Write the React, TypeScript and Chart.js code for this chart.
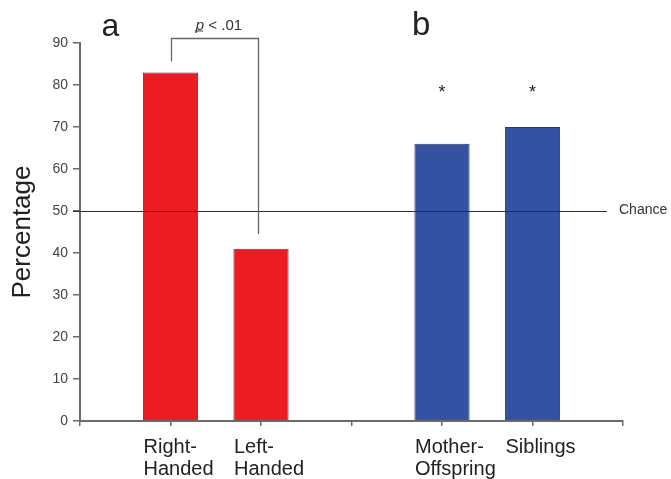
import React, { useEffect, useRef } from 'react';
import { Chart, registerables } from 'chart.js';

Chart.register(...registerables);

// ---- data ----
const handLabels: string[][] = [['Right-', 'Handed'], ['Left-', 'Handed']];
const handValues: number[] = [83, 41];
const kinLabels: string[][] = [['Mother-', 'Offspring'], ['Siblings']];
const kinValues: number[] = [66, 70];
const yMin = 0;
const yMax = 90;
const yStep = 10;
const yTitle = 'Percentage';
const chanceValue = 50;
const chanceLabel = 'Chance';
const sigLabelItalic = 'p';
const sigLabelRest = ' < .01';
const bracketTopValue = 91.2;
const bracketLeftEndValue = 85.6;
const bracketRightEndValue = 44.5;
const starLabel = '*';
const starValue = 79.3;
const panelLabels: string[] = ['a', 'b'];

// ---- derived ----
const categories: (string | string[])[] = ['', ...handLabels, '', ...kinLabels, ''];
const values: (number | null)[] = [null, ...handValues, null, ...kinValues, null];
const RED = '#ec1c24';
const BLUE = '#3552a2';
const barColors = ['rgba(0,0,0,0)', ...handValues.map(() => RED), 'rgba(0,0,0,0)', ...kinValues.map(() => BLUE), 'rgba(0,0,0,0)'];
const barBorders = ['rgba(0,0,0,0)', ...handValues.map(() => '#6e3328'), 'rgba(0,0,0,0)', ...kinValues.map(() => '#27386e'), 'rgba(0,0,0,0)'];
const handIdx = handValues.map((_, i) => 1 + i);
const kinIdx = kinValues.map((_, i) => 2 + handValues.length + i);

const FONT = '"Liberation Sans", Arial, Helvetica, sans-serif';
const AXIS = '#6a6a6a';

const annotations = {
  id: 'annotations',
  afterDatasetsDraw(chart: any) {
    const { ctx, chartArea } = chart;
    const x = chart.scales.x;
    const y = chart.scales.y;
    ctx.save();
    // chance line
    const cy = Math.round(y.getPixelForValue(chanceValue)) + 0.5;
    ctx.strokeStyle = '#2e2e2e';
    ctx.lineWidth = 1;
    ctx.beginPath();
    ctx.moveTo(chartArea.left - 7, cy);
    const lineEnd = chartArea.right - 16;
    ctx.lineTo(lineEnd, cy);
    ctx.stroke();
    ctx.fillStyle = '#333';
    ctx.font = `14px ${FONT}`;
    ctx.textAlign = 'left';
    ctx.textBaseline = 'middle';
    ctx.fillText(chanceLabel, lineEnd + 12, cy - 1);

    // significance bracket
    const bx1 = Math.round(x.getPixelForValue(handIdx[0])) + 0.5;
    const bx2 = Math.round(x.getPixelForValue(handIdx[1])) - 2.5;
    const byTop = Math.round(y.getPixelForValue(bracketTopValue)) + 0.5;
    ctx.strokeStyle = '#666';
    ctx.lineWidth = 1.3;
    ctx.beginPath();
    ctx.moveTo(bx1, y.getPixelForValue(bracketLeftEndValue));
    ctx.lineTo(bx1, byTop);
    ctx.lineTo(bx2, byTop);
    ctx.lineTo(bx2, y.getPixelForValue(bracketRightEndValue));
    ctx.stroke();

    // p < .01
    ctx.textBaseline = 'alphabetic';
    ctx.fillStyle = '#333';
    ctx.font = `italic 15px ${FONT}`;
    const wP = ctx.measureText(sigLabelItalic).width;
    ctx.font = `15px ${FONT}`;
    const wR = ctx.measureText(sigLabelRest).width;
    const tx = (bx1 + bx2) / 2 + 4 - (wP + wR) / 2;
    const ty = byTop - 9;
    ctx.font = `italic 15px ${FONT}`;
    ctx.fillText(sigLabelItalic, tx, ty);
    ctx.font = `15px ${FONT}`;
    ctx.fillText(sigLabelRest, tx + wP, ty);
    ctx.lineWidth = 1;
    ctx.strokeStyle = '#444';
    ctx.beginPath();
    ctx.moveTo(tx - 1, ty + 1.5);
    ctx.lineTo(tx + wP - 1, ty + 1.5);
    ctx.stroke();

    // asterisks
    ctx.font = `18px ${FONT}`;
    ctx.textAlign = 'center';
    ctx.fillStyle = '#222';
    const sy = y.getPixelForValue(starValue) + 10;
    kinIdx.forEach((i) => ctx.fillText(starLabel, x.getPixelForValue(i), sy));
    ctx.restore();
  },
  afterDraw(chart: any) {
    const { ctx, chartArea } = chart;
    const x = chart.scales.x;
    ctx.save();
    // category labels (left aligned blocks)
    ctx.font = `20px ${FONT}`;
    ctx.fillStyle = '#222';
    ctx.textAlign = 'left';
    ctx.textBaseline = 'alphabetic';
    categories.forEach((lab, i) => {
      if (!Array.isArray(lab)) return;
      const lx = x.getPixelForValue(i) - 27;
      lab.forEach((line, k) => ctx.fillText(line, lx, chartArea.bottom + 32 + k * 22));
    });
    // panel labels
    ctx.font = `32px ${FONT}`;
    ctx.fillStyle = '#222';
    ctx.fillText(panelLabels[0], x.getPixelForValue(handIdx[0]) - 69, 36);
    ctx.font = `33px ${FONT}`;
    ctx.fillText(panelLabels[1], x.getPixelForValue(kinIdx[0]) - 30, 35);
    ctx.restore();
  },
};

export default function App() {
  const ref = useRef<HTMLCanvasElement | null>(null);
  useEffect(() => {
    if (!ref.current) return;
    const chart = new Chart(ref.current, {
      type: 'bar',
      data: {
        labels: categories as any,
        datasets: [
          {
            data: values as any,
            backgroundColor: barColors,
            borderColor: barBorders,
            borderWidth: 1,
            barPercentage: 0.61,
            categoryPercentage: 1,
          },
        ],
      },
      options: {
        responsive: false,
        animation: false,
        layout: { padding: { top: 43, right: 48, left: 0, bottom: 0 } },
        plugins: { legend: { display: false }, tooltip: { enabled: false }, title: { display: false } },
        scales: {
          x: {
            type: 'category',
            offset: false,
            grid: { display: true, offset: false, drawOnChartArea: false, drawTicks: true, tickLength: 5, color: AXIS, lineWidth: 1.5 },
            border: { display: true, color: AXIS, width: 2 },
            ticks: { display: false },
            afterFit: (s: any) => { s.height = 58; },
          },
          y: {
            min: yMin,
            max: yMax,
            grid: { display: true, drawOnChartArea: false, drawTicks: true, tickLength: 7, color: AXIS, lineWidth: 1.5 },
            border: { display: true, color: AXIS, width: 2 },
            ticks: { stepSize: yStep, padding: 5, color: '#444', font: { family: FONT, size: 14 } },
            title: { display: true, text: yTitle, color: '#222', font: { family: FONT, size: 26 }, padding: { top: 7, bottom: 0 } },
            afterFit: (s: any) => { s.width = 80; },
          },
        },
      },
      plugins: [annotations],
    });
    return () => chart.destroy();
  }, []);
  return (
    <div style={{ position: 'absolute', left: 0, top: 0, width: 671, height: 479, background: '#fff' }}>
      <canvas ref={ref} width={671} height={479} style={{ display: 'block' }} />
    </div>
  );
}
